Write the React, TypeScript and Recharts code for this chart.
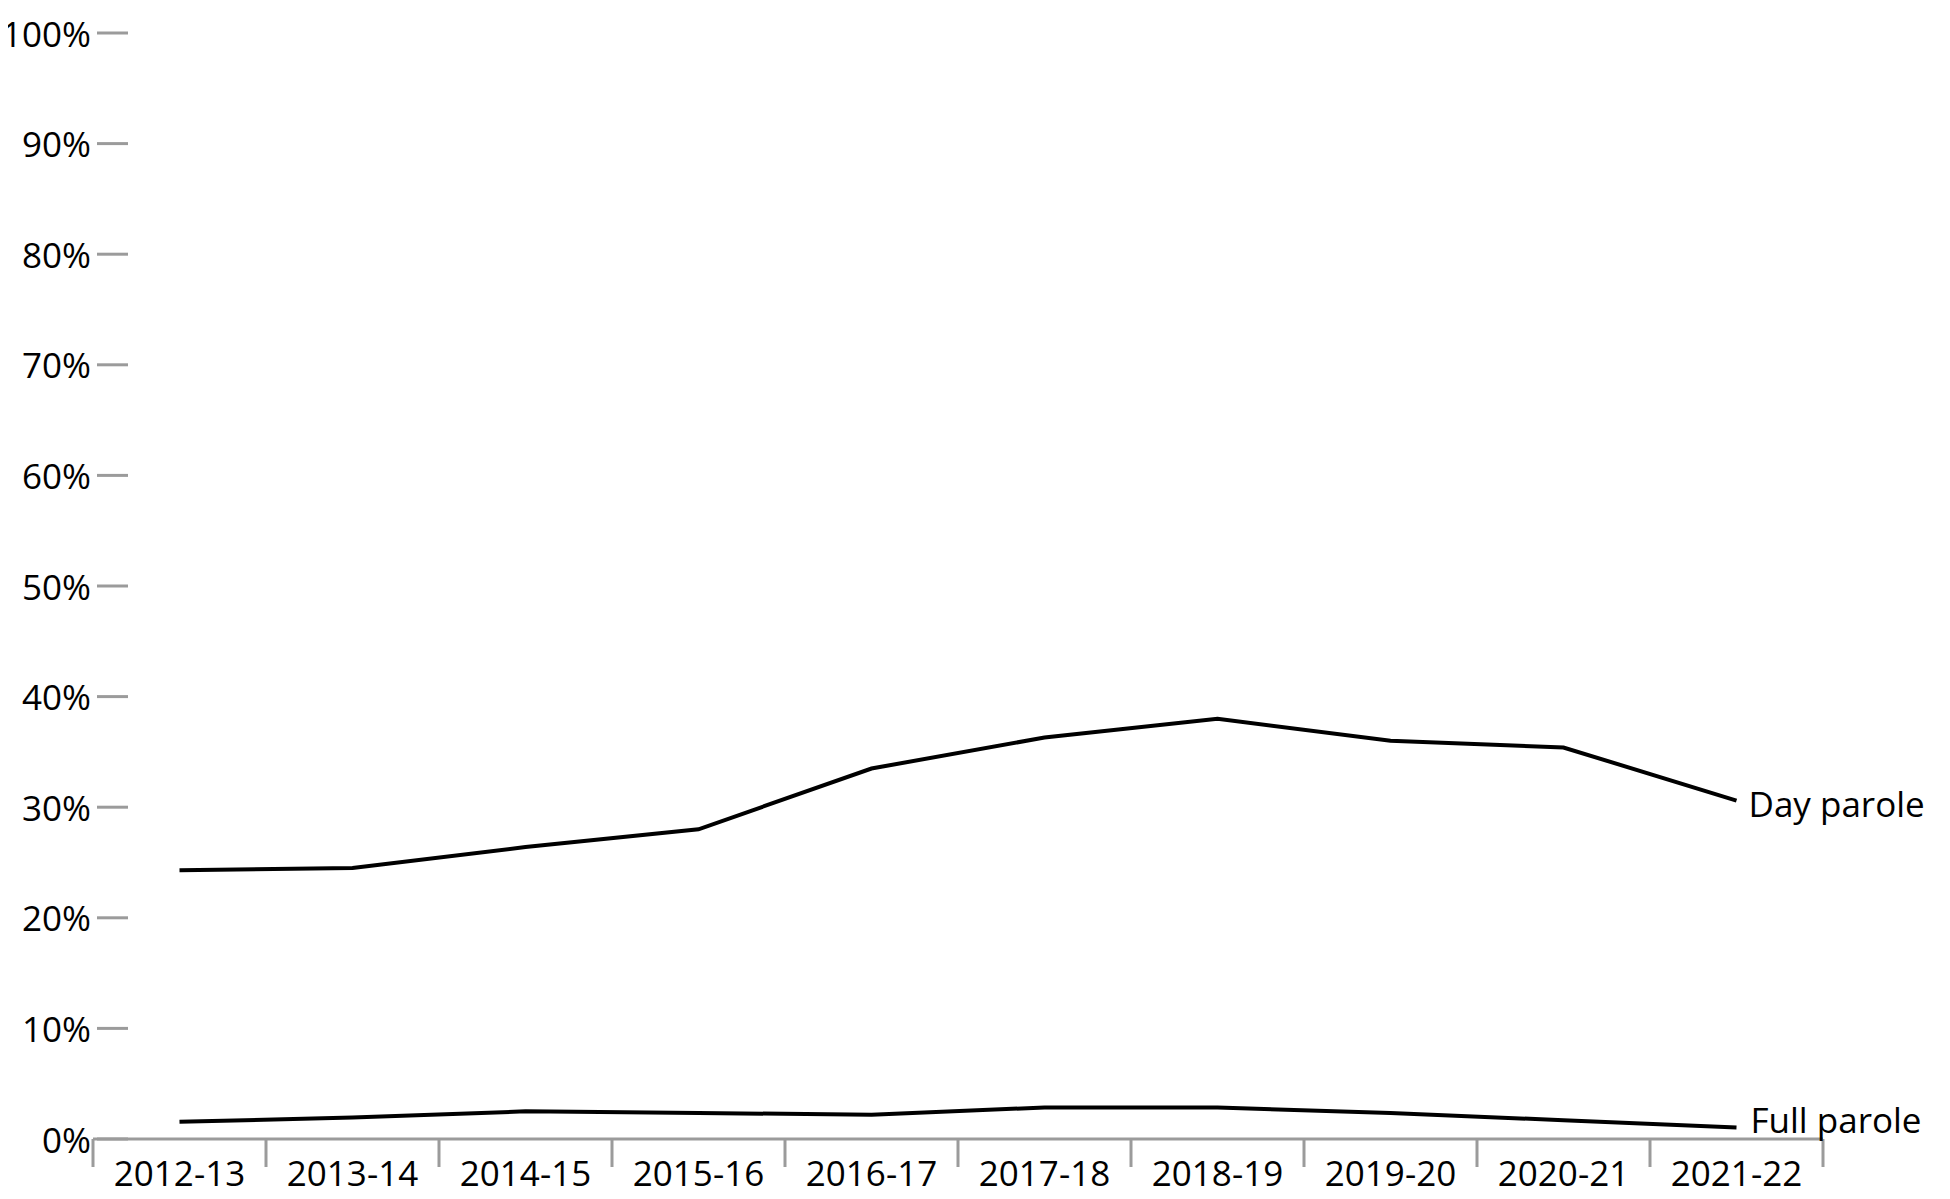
import React from 'react';
import { LineChart, Line, XAxis, YAxis } from 'recharts';

const CATEGORIES = ['2012-13', '2013-14', '2014-15', '2015-16', '2016-17', '2017-18', '2018-19', '2019-20', '2020-21', '2021-22'];
const DAY_PAROLE = [24.3, 24.5, 26.4, 28.0, 33.5, 36.3, 38.0, 36.0, 35.4, 30.6];
const FULL_PAROLE = [1.55, 1.95, 2.5, 2.35, 2.2, 2.85, 2.85, 2.35, 1.7, 1.05];
const Y_TICKS = [0, 10, 20, 30, 40, 50, 60, 70, 80, 90, 100];
const X_BOUNDS = [0, 1, 2, 3, 4, 5, 6, 7, 8, 9, 10];
const SERIES_NAMES = { day: 'Day parole', full: 'Full parole' };

const data = CATEGORIES.map((c, i) => ({
  x: i + 0.5,
  category: c,
  day: DAY_PAROLE[i],
  full: FULL_PAROLE[i],
}));

const W = 1950;
const H = 1199;
const MARGIN = { top: 33, right: 127, bottom: 10, left: 0 };
const Y_W = 93;
const PLOT_W = W - MARGIN.left - MARGIN.right - Y_W;
const HALF_BAND = PLOT_W / CATEGORIES.length / 2;
const FONT = '"Open Sans", "Noto Sans", sans-serif';
const FS = 35;
const GRAY = '#9b9b9b';

const YTick = (props: any) => {
  const { x, y, payload } = props;
  return (
    <g>
      <line x1={x + 4} x2={x + 35} y1={y} y2={y} stroke={GRAY} strokeWidth={3} />
      <text x={x - 2} y={y} textAnchor="end" dominantBaseline="central" fontFamily={FONT} fontSize={FS} fill="#000">
        {payload.value}%
      </text>
    </g>
  );
};

const XTick = (props: any) => {
  const { x, y, payload } = props;
  const idx = payload.value;
  if (idx >= CATEGORIES.length) return <g />;
  return (
    <text x={x + HALF_BAND} y={y} dy={19} textAnchor="middle" fontFamily={FONT} fontSize={FS} fill="#000">
      {CATEGORIES[idx]}
    </text>
  );
};

const makeEndLabel = (name: string, dx: number, dyc: number) => (props: any) => {
  const { x, y, index } = props;
  if (index !== CATEGORIES.length - 1) return <g />;
  return (
    <text x={x + dx} y={y + dyc} dominantBaseline="central" fontFamily={FONT} fontSize={FS} fill="#000">
      {name}
    </text>
  );
};

export default function App() {
  return (
    <div style={{ margin: -8, width: W, height: H }}>
      <LineChart width={W} height={H} data={data} margin={MARGIN}>
        <XAxis
          type="number"
          dataKey="x"
          domain={[0, 10]}
          ticks={X_BOUNDS}
          interval={0}
          axisLine={{ stroke: GRAY, strokeWidth: 3 }}
          tickLine={{ stroke: GRAY, strokeWidth: 3 }}
          tickSize={28}
          tickMargin={0}
          height={50}
          tick={XTick}
        />
        <YAxis
          type="number"
          domain={[0, 100]}
          ticks={Y_TICKS}
          interval={0}
          width={Y_W}
          axisLine={false}
          tickLine={false}
          tickSize={0}
          tickMargin={0}
          tick={YTick}
        />
        <Line
          type="linear"
          dataKey="day"
          stroke="#000"
          strokeWidth={4}
          dot={false}
          isAnimationActive={false}
          label={makeEndLabel(SERIES_NAMES.day, 12, 3)}
        />
        <Line
          type="linear"
          dataKey="full"
          stroke="#000"
          strokeWidth={4}
          dot={false}
          isAnimationActive={false}
          label={makeEndLabel(SERIES_NAMES.full, 14, -8)}
        />
      </LineChart>
    </div>
  );
}
